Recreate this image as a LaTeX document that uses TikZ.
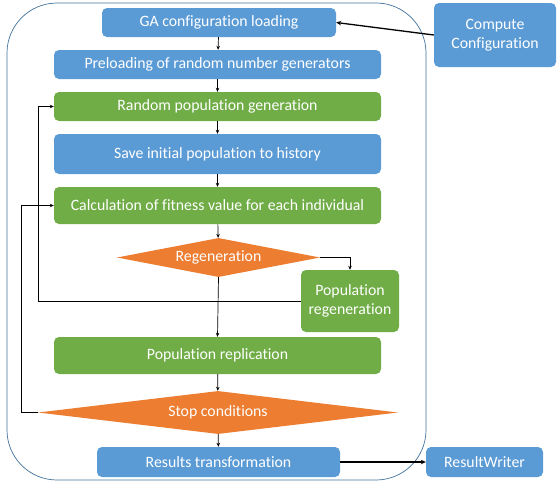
\documentclass[tikz,border=0pt]{standalone}
\usepackage{fontspec}
\setmainfont{Carlito}[Ligatures=NoCommon]
\usetikzlibrary{shapes.geometric,arrows.meta}
\definecolor{obl}{HTML}{5B9BD5}
\definecolor{ogr}{HTML}{70AD47}
\definecolor{oor}{HTML}{ED7D31}
\definecolor{oedge}{HTML}{41719C}
\tikzset{
  base/.style={text=white, font=\fontsize{15.8}{18.5}\selectfont, inner sep=0pt, align=center},
  bluebox/.style={base, rectangle, rounded corners=5pt, fill=obl},
  greenbox/.style={base, rectangle, rounded corners=5pt, fill=ogr},
  decision/.style={base, diamond, fill=oor},
  flow/.style={draw=black, line width=0.7pt, -{Stealth[length=4pt,width=3.5pt]}},
  thickflow/.style={draw=black, line width=1.3pt, -{Stealth[length=5pt,width=4.5pt]}},
}
\begin{document}
\begin{tikzpicture}[x=1pt,y=-1pt]
\useasboundingbox (0,0) rectangle (557,483);
\draw[oedge, line width=0.7pt, rounded corners=50pt] (7,3) rectangle (426,480);
\node[bluebox, minimum width=234pt, minimum height=29pt] (ga) at (219,22.5) {GA configuration loading};
\node[bluebox, minimum width=327pt, minimum height=29pt] (pre) at (217.5,64.5) {Preloading of random number generators};
\node[greenbox, minimum width=327pt, minimum height=29pt] (rand) at (217.5,106.5) {Random population generation};
\node[bluebox, minimum width=327pt, minimum height=40pt] (save) at (217.5,154) {Save initial population to history};
\node[greenbox, minimum width=327pt, minimum height=37pt] (calc) at (217.5,205.5) {Calculation of fitness value for each individual};
\node[decision, aspect=5.2, minimum width=203pt, minimum height=39pt] (regen) at (218.5,257.5) {Regeneration};
\node[greenbox, minimum width=98pt, minimum height=62pt] (popregen) at (350,301) {Population\\regeneration};
\node[greenbox, minimum width=327pt, minimum height=37pt] (repl) at (217.5,355.5) {Population replication};
\node[decision, aspect=8.4, minimum width=360pt, minimum height=43pt] (stop) at (218,412.5) {Stop conditions};
\node[bluebox, minimum width=243pt, minimum height=30pt] (res) at (218.5,462) {Results transformation};
\node[bluebox, minimum width=117pt, minimum height=30pt] (rw) at (484.5,462) {ResultWriter};
\node[bluebox, minimum width=122pt, minimum height=64pt] (comp) at (495,35) {Compute\\Configuration};
\coordinate (fb1) at (38,301);
\coordinate (fb2) at (21,412.5);
\draw[flow] (ga) -- (pre);
\draw[flow] (pre) -- (rand);
\draw[flow] (rand) -- (save);
\draw[flow] (save) -- (calc);
\draw[flow] (calc) -- (regen);
\draw[flow] (regen.south) -- (repl.north);
\draw[flow] (repl) -- (stop);
\draw[flow] (stop) -- (res);
\draw[flow] (regen.east) -| (popregen.north);
\draw[flow] (popregen.west) -- (fb1) |- (rand.west);
\draw[flow] (stop.west) -- (fb2) |- (calc.west);
\draw[thickflow] (comp.west) -- (ga.east);
\draw[thickflow] (res.east) -- (rw.west);
\end{tikzpicture}
\end{document}
